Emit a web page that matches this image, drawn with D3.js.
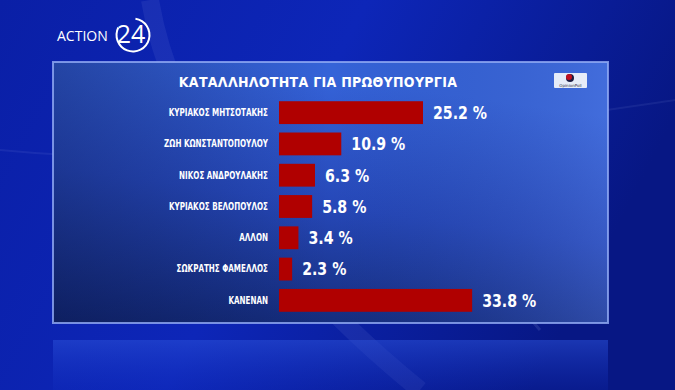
<!DOCTYPE html>
<html>
<head>
<meta charset="utf-8">
<script src="https://cdn.jsdelivr.net/npm/d3@7"></script>
<style>
  body { margin: 0; background: #0a1c9c; }
  svg { display: block; }
</style>
</head>
<body>
<div id="chart"></div>
<script>
let names = ["ΚΥΡΙΑΚΟΣ ΜΗΤΣΟΤΑΚΗΣ", "ΖΩΗ ΚΩΝΣΤΑΝΤΟΠΟΥΛΟΥ", "ΝΙΚΟΣ ΑΝΔΡΟΥΛΑΚΗΣ",
             "ΚΥΡΙΑΚΟΣ ΒΕΛΟΠΟΥΛΟΣ", "ΑΛΛΟΝ", "ΣΩΚΡΑΤΗΣ ΦΑΜΕΛΛΟΣ", "ΚΑΝΕΝΑΝ"];
let values = [25.2, 10.9, 6.3, 5.8, 3.4, 2.3, 33.8];
let title = "ΚΑΤΑΛΛΗΛΟΤΗΤΑ ΓΙΑ ΠΡΩΘΥΠΟΥΡΓΙΑ";

{
  let width = 675,
      height = 390;
  let narrow = "'DejaVu Sans Condensed',sans-serif";

  var svg = d3.select("#chart")
    .append("svg")
      .attr("width", width)
      .attr("height", height);

  var defs = svg.append("defs");

  // background
  var bg = defs.append("linearGradient").attr("id", "bg")
    .attr("x1", 0).attr("y1", 0).attr("x2", 1).attr("y2", 0.3);
  bg.append("stop").attr("offset", 0).attr("stop-color", "#0a1fa6");
  bg.append("stop").attr("offset", 0.5).attr("stop-color", "#0d26b8");
  bg.append("stop").attr("offset", 1).attr("stop-color", "#071784");

  // panel
  var pg = defs.append("linearGradient").attr("id", "panel")
    .attr("x1", 0.3).attr("y1", 0).attr("x2", 0).attr("y2", 1);
  pg.append("stop").attr("offset", 0).attr("stop-color", "#3563d8");
  pg.append("stop").attr("offset", 0.45).attr("stop-color", "#2648b8");
  pg.append("stop").attr("offset", 1).attr("stop-color", "#10246a");

  var pr = defs.append("linearGradient").attr("id", "panelR")
    .attr("x1", 0).attr("y1", 0).attr("x2", 1).attr("y2", 0);
  pr.append("stop").attr("offset", 0).attr("stop-color", "#0a1650").attr("stop-opacity", 0.35);
  pr.append("stop").attr("offset", 0.5).attr("stop-color", "#0a1650").attr("stop-opacity", 0);
  pr.append("stop").attr("offset", 1).attr("stop-color", "#6a8ae8").attr("stop-opacity", 0.25);

  var rg = defs.append("linearGradient").attr("id", "refl")
    .attr("x1", 0).attr("y1", 0).attr("x2", 0).attr("y2", 1);
  rg.append("stop").attr("offset", 0).attr("stop-color", "#2a50d8").attr("stop-opacity", 0.55);
  rg.append("stop").attr("offset", 1).attr("stop-color", "#1535c8").attr("stop-opacity", 0.15);

  svg.append("rect").attr("width", width).attr("height", height).attr("fill", "url(#bg)");

  // light streaks
  var streaks = svg.append("g").attr("fill", "none").attr("stroke", "#bcd0ff");
  streaks.append("path").attr("d", "M150,0 C170,120 260,260 420,390")
    .attr("stroke-width", 18).attr("stroke-opacity", 0.08);
  streaks.append("path").attr("d", "M60,90 C160,150 330,230 470,250 L540,330")
    .attr("stroke-width", 3).attr("stroke-opacity", 0.12);
  streaks.append("path").attr("d", "M0,150 C200,170 400,140 675,100")
    .attr("stroke-width", 2).attr("stroke-opacity", 0.08);

  // reflection under panel
  svg.append("rect")
    .attr("x", 53).attr("y", 340).attr("width", 555).attr("height", 50)
    .attr("fill", "url(#refl)");

  // panel
  svg.append("rect")
    .attr("x", 53).attr("y", 62).attr("width", 555).attr("height", 261)
    .attr("fill", "url(#panel)");
  svg.append("rect")
    .attr("x", 53).attr("y", 62).attr("width", 555).attr("height", 261)
    .attr("fill", "url(#panelR)");
  svg.append("rect")
    .attr("x", 53).attr("y", 62).attr("width", 555).attr("height", 261)
    .attr("fill", "none").attr("stroke", "#93acf5").attr("stroke-width", 2)
    .attr("stroke-opacity", 0.8);

  // logo ACTION 24
  svg.append("text")
    .attr("x", 57).attr("y", 41)
    .style("font", "14px 'Open Sans',sans-serif")
    .attr("fill", "#fff")
    .text("ACTION");
  svg.append("text")
    .attr("x", 131).attr("y", 43)
    .attr("text-anchor", "middle")
    .style("font", "25px 'Open Sans',sans-serif")
    .attr("fill", "#fff")
    .text("24");
  var arc = d3.arc().innerRadius(15.5).outerRadius(17.5)
    .startAngle(0.15).endAngle(2 * Math.PI - 1.1);
  svg.append("path").attr("d", arc()).attr("transform", "translate(133,35)")
    .attr("fill", "#fff");

  // title
  svg.append("text")
    .attr("x", 318).attr("y", 87)
    .attr("text-anchor", "middle")
    .style("font", "bold 14px " + narrow)
    .style("letter-spacing", "0.3px")
    .attr("fill", "#fff")
    .text(title);

  // OpinionPoll badge
  svg.append("rect").attr("x", 554).attr("y", 73).attr("width", 33).attr("height", 15)
    .attr("fill", "#e6ecf8").attr("rx", 1);
  svg.append("circle").attr("cx", 570).attr("cy", 78).attr("r", 4).attr("fill", "#1a1a40");
  svg.append("circle").attr("cx", 569).attr("cy", 77).attr("r", 3).attr("fill", "#c01020");
  svg.append("text").attr("x", 570.5).attr("y", 86.5).attr("text-anchor", "middle")
    .style("font", "4px 'DejaVu Sans',sans-serif").attr("fill", "#334")
    .text("OpinionPoll");

  // scales
  var scalex = d3.scaleLinear()
    .domain([0, 35])
    .range([279, 479]);

  var scaley = d3.scaleBand()
    .domain(names)
    .range([97, 316])
    .paddingInner(0.27)
    .paddingOuter(0.135);

  // bars
  names.forEach(function(n, i) {
    svg.append("rect")
      .attr("x", scalex(0))
      .attr("y", scaley(n))
      .attr("width", scalex(values[i]) - scalex(0))
      .attr("height", scaley.bandwidth())
      .attr("fill", "#b00000");
    svg.append("text")
      .attr("transform", "translate(" + (scalex(values[i]) + 10) + "," +
            (scaley(n) + scaley.bandwidth() / 2) + ") scale(0.9,1)")
      .attr("dy", "0.36em")
      .style("font", "bold 17.5px " + narrow)
      .attr("fill", "#fff")
      .text(d3.format(".1f")(values[i]) + " %");
  });

  // category labels
  var axis = svg.append("g")
    .attr("transform", "translate(" + (scalex(0) - 11) + ",0) scale(0.76,1)")
    .call(d3.axisLeft(scaley).tickSize(0).tickPadding(0));
  axis.select(".domain").remove();
  axis.selectAll("text")
    .style("font", "bold 10.5px " + narrow)
    .attr("fill", "#fff");
}
</script>
</body>
</html>
